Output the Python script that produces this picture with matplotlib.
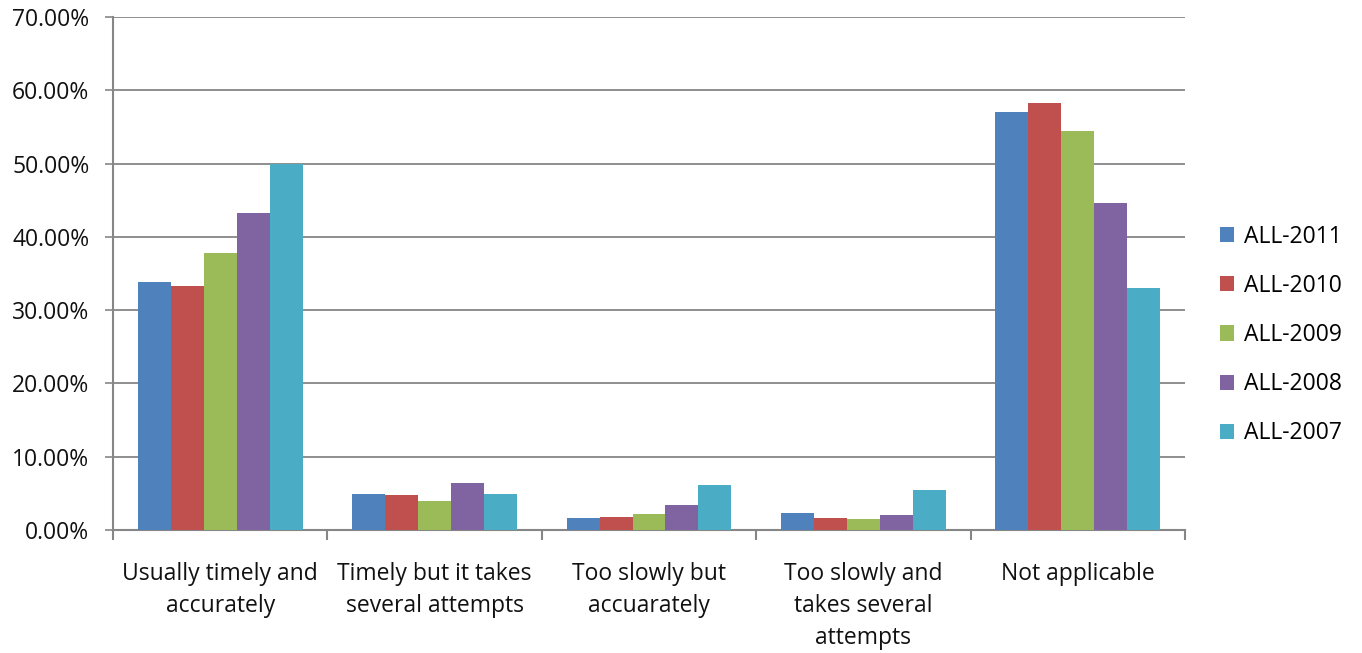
import matplotlib
matplotlib.use("Agg")
import matplotlib.pyplot as plt
import numpy as np
from matplotlib.ticker import FuncFormatter, MultipleLocator

categories = ["Usually timely and\naccurately", "Timely but it takes\nseveral attempts",
              "Too slowly but\naccuarately", "Too slowly and\ntakes several\nattempts", "Not applicable"]
series_names = ["ALL-2011", "ALL-2010", "ALL-2009", "ALL-2008", "ALL-2007"]
all_2011 = [33.8, 4.9, 1.6, 2.3, 57.0]
all_2010 = [33.3, 4.8, 1.8, 1.6, 58.2]
all_2009 = [37.8, 4.0, 2.2, 1.5, 54.4]
all_2008 = [43.2, 6.4, 3.4, 2.0, 44.6]
all_2007 = [50.0, 4.9, 6.1, 5.5, 33.0]
series = [all_2011, all_2010, all_2009, all_2008, all_2007]
colors = ["#4F81BD", "#C0504D", "#9BBB59", "#8064A2", "#4BACC6"]

plt.rcParams['font.family'] = ['Open Sans', 'DejaVu Sans']

fig = plt.figure(figsize=(13.62, 6.53), dpi=100)
ax = fig.add_axes([113/1362, 123/653, (1185-113)/1362, (530-17)/653])

n = len(series)
bw = 1/(n+1.5)
x = np.arange(len(categories))
for i, (vals, name, c) in enumerate(zip(series, series_names, colors)):
    ax.bar(x + (i - (n-1)/2)*bw, vals, width=bw, color=c, label=name, zorder=3)

ax.set_xlim(-0.5, len(categories)-0.5)
ax.set_ylim(0, 70)
ax.yaxis.set_major_locator(MultipleLocator(10))
ax.yaxis.set_major_formatter(FuncFormatter(lambda v, p: f"{v:.2f}%"))
ax.grid(axis='y', color='#868686', linewidth=1.3, zorder=0)
for s in ['top', 'right']:
    ax.spines[s].set_visible(False)
for s in ['left', 'bottom']:
    ax.spines[s].set_color('#868686')
    ax.spines[s].set_linewidth(1.5)

ax.set_xticks(np.arange(-0.5, len(categories)), minor=False)
ax.set_xticklabels([])
ax.set_xticks(x, minor=True)
ax.set_xticklabels(categories, minor=True, fontsize=16.5, color='#111111', linespacing=1.45)
ax.tick_params(axis='x', which='major', length=7, width=1.5, color='#868686', direction='out')
ax.tick_params(axis='x', which='minor', length=0, pad=23)
ax.tick_params(axis='y', length=6, width=1.2, color='#868686', labelsize=16.5, labelcolor='#111111', pad=11)

leg = ax.legend(loc='center left', bbox_to_anchor=(1.0215, 0.38), frameon=False,
                fontsize=16.5, handlelength=0.65, handleheight=0.65, handletextpad=0.4,
                labelspacing=1.1, borderpad=0)

fig.savefig("out.png", dpi=100)
